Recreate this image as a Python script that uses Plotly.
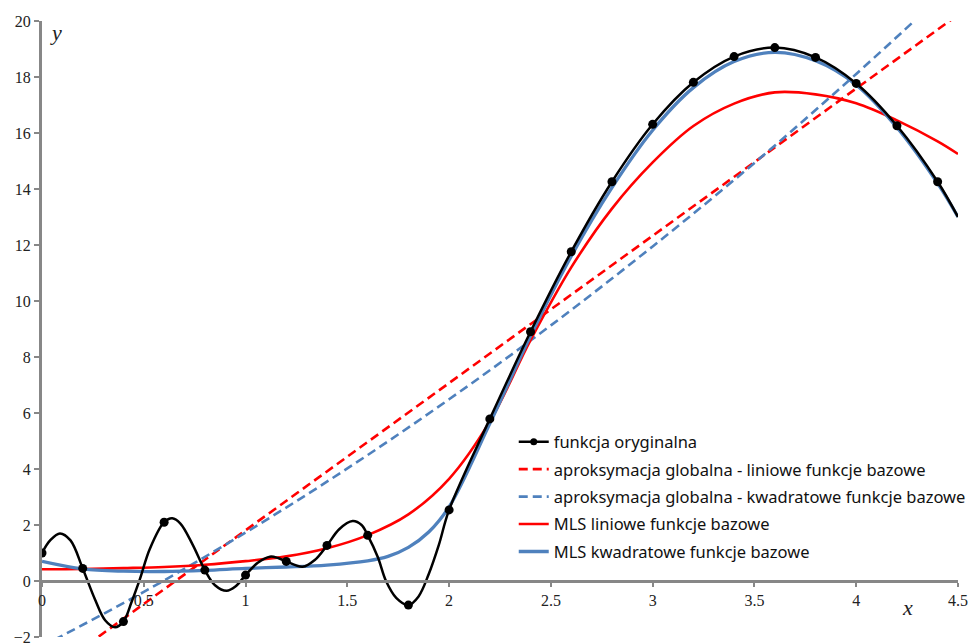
import plotly.graph_objects as go

# original function, dense read-off of the black curve
f_x = [0.00, 0.04, 0.088, 0.14, 0.20, 0.26, 0.31, 0.359, 0.40, 0.44, 0.48, 0.53, 0.60, 0.64, 0.68,
       0.74, 0.80, 0.85, 0.907, 0.95, 1.00, 1.06, 1.12, 1.16, 1.20, 1.28, 1.34, 1.40, 1.46, 1.526,
       1.57, 1.60, 1.65, 1.69, 1.74, 1.80, 1.85, 1.90, 1.95, 2.00, 2.20, 2.40, 2.60, 2.80, 3.00,
       3.20, 3.40, 3.60, 3.80, 4.00, 4.20, 4.40, 4.50]
f_y = [1.00, 1.45, 1.70, 1.45, 0.45, -0.65, -1.40, -1.65, -1.45, -0.75, 0.05, 1.15, 2.10, 2.24, 2.05,
       1.30, 0.39, -0.15, -0.35, -0.20, 0.21, 0.65, 0.87, 0.82, 0.70, 0.51, 0.75, 1.27, 1.85, 2.14,
       2.00, 1.63, 0.85, 0.00, -0.60, -0.86, -0.55, 0.25, 1.30, 2.54, 5.79, 8.90, 11.76, 14.26, 16.31,
       17.81, 18.73, 19.05, 18.70, 17.77, 16.26, 14.26, 13.00]

# sample nodes (markers)
node_x = [0.0, 0.2, 0.4, 0.6, 0.8, 1.0, 1.2, 1.4, 1.6, 1.8, 2.0, 2.2, 2.4, 2.6, 2.8, 3.0,
          3.2, 3.4, 3.6, 3.8, 4.0, 4.2, 4.4]
node_y = [1.00, 0.45, -1.45, 2.10, 0.39, 0.21, 0.70, 1.27, 1.63, -0.86, 2.54, 5.79, 8.90, 11.76,
          14.26, 16.31, 17.81, 18.73, 19.05, 18.70, 17.77, 16.26, 14.26]

# global approximation - linear basis
gl_x = [0.0, 4.5]
gl_y = [-3.45, 20.22]

# global approximation - quadratic basis
gq_x = [0.0, 0.5, 1.0, 1.5, 2.0, 2.5, 3.0, 3.5, 4.0, 4.5]
gq_y = [-2.33, -0.39, 1.73, 4.02, 6.49, 9.13, 11.95, 14.93, 18.11, 21.45]

# MLS linear basis
ml_x = [0.0, 0.2, 0.4, 0.6, 0.8, 1.0, 1.2, 1.4, 1.6, 1.8, 2.0, 2.2, 2.4, 2.6, 2.8, 3.0,
        3.2, 3.4, 3.6, 3.8, 4.0, 4.2, 4.4, 4.5]
ml_y = [0.42, 0.43, 0.46, 0.50, 0.58, 0.71, 0.88, 1.17, 1.64, 2.38, 3.65, 5.70, 8.60, 11.20,
        13.30, 14.95, 16.25, 17.05, 17.45, 17.38, 17.06, 16.45, 15.70, 15.25]

# MLS quadratic basis
mq_x = [0.0, 0.2, 0.4, 0.6, 0.8, 1.0, 1.2, 1.4, 1.6, 1.7, 1.8, 1.9, 2.0, 2.2, 2.4, 2.6, 2.8,
        3.0, 3.2, 3.4, 3.6, 3.8, 4.0, 4.2, 4.4, 4.5]
mq_y = [0.70, 0.43, 0.35, 0.34, 0.38, 0.45, 0.50, 0.57, 0.72, 0.88, 1.20, 1.75, 2.65, 5.62,
        8.75, 11.60, 14.05, 16.10, 17.62, 18.55, 18.88, 18.58, 17.72, 16.20, 14.20, 13.00]

names = ["funkcja oryginalna",
         "aproksymacja globalna - liniowe funkcje bazowe",
         "aproksymacja globalna - kwadratowe funkcje bazowe",
         "MLS liniowe funkcje bazowe",
         "MLS kwadratowe funkcje bazowe"]

RED = "#FF0000"
BLUE = "#4F81BD"
GRAY = "#878787"
SERIF = "Liberation Serif, Times New Roman, serif"

fig = go.Figure()
fig.add_trace(go.Scatter(x=gl_x, y=gl_y, mode="lines", name=names[1], legendgroup="g2", legendrank=2,
                         line=dict(color=RED, width=2.6, dash="9px,5px")))
fig.add_trace(go.Scatter(x=gq_x, y=gq_y, mode="lines", name=names[2], legendgroup="g3", legendrank=3,
                         line=dict(color=BLUE, width=2.6, dash="9px,5px", shape="spline")))
fig.add_trace(go.Scatter(x=ml_x, y=ml_y, mode="lines", name=names[3], legendgroup="g4", legendrank=4,
                         line=dict(color=RED, width=2.6, shape="spline")))
fig.add_trace(go.Scatter(x=mq_x, y=mq_y, mode="lines", name=names[4], legendgroup="g5", legendrank=5,
                         line=dict(color=BLUE, width=3.3, shape="spline")))
fig.add_trace(go.Scatter(x=f_x, y=f_y, mode="lines", showlegend=False, legendgroup="g1",
                         line=dict(color="black", width=2.5, shape="spline", smoothing=1.0)))
fig.add_trace(go.Scatter(x=node_x, y=node_y, mode="markers", showlegend=False, legendgroup="g1",
                         marker=dict(color="black", size=9)))
fig.add_trace(go.Scatter(x=[None], y=[None], mode="lines+markers", name=names[0], legendgroup="g1",
                         legendrank=1, line=dict(color="black", width=2.5),
                         marker=dict(color="black", size=7)))

fig.update_layout(
    width=969, height=643,
    margin=dict(l=42, r=11, t=21, b=6, autoexpand=False),
    paper_bgcolor="white", plot_bgcolor="white",
    font=dict(family=SERIF, size=16, color="#222222"),
    showlegend=True,
    legend=dict(x=0.515, y=0.345, xanchor="left", yanchor="top", bgcolor="rgba(0,0,0,0)",
                font=dict(family="Noto Sans", size=16.5, color="#111111"),
                traceorder="grouped", tracegroupgap=3, itemwidth=30),
    xaxis=dict(range=[0, 4.5], tickvals=[0, 0.5, 1, 1.5, 2, 2.5, 3, 3.5, 4, 4.5],
               ticktext=["0", "0.5", "1", "1.5", "2", "2.5", "3", "3.5", "4", "4.5"],
               showgrid=False, zeroline=False, showline=True, linecolor=GRAY, linewidth=3,
               ticks="outside", ticklen=4, tickwidth=2, tickcolor=GRAY, automargin=False,
               anchor="free", position=2/22, ticklabeloverflow="allow",
               tickfont=dict(family=SERIF, size=16, color="#222222")),
    yaxis=dict(range=[-2, 20], tickvals=list(range(-2, 21, 2)),
               showgrid=False, zeroline=False, showline=True, linecolor=GRAY, linewidth=3,
               ticks="outside", ticklen=5, tickwidth=2, tickcolor=GRAY, ticklabeloverflow="allow",
               automargin=False,
               tickfont=dict(family=SERIF, size=16, color="#222222")),
    annotations=[
        dict(text="<i>y</i>", x=0.03, y=19.6, xref="x", yref="y", xanchor="left", yanchor="middle",
             showarrow=False, font=dict(family=SERIF, size=22, color="#222222")),
        dict(text="<i>x</i>", x=4.254, y=-0.96, xref="x", yref="y", xanchor="center", yanchor="middle",
             showarrow=False, font=dict(family=SERIF, size=22, color="#222222")),
    ],
)

fig.write_html("out.html")
